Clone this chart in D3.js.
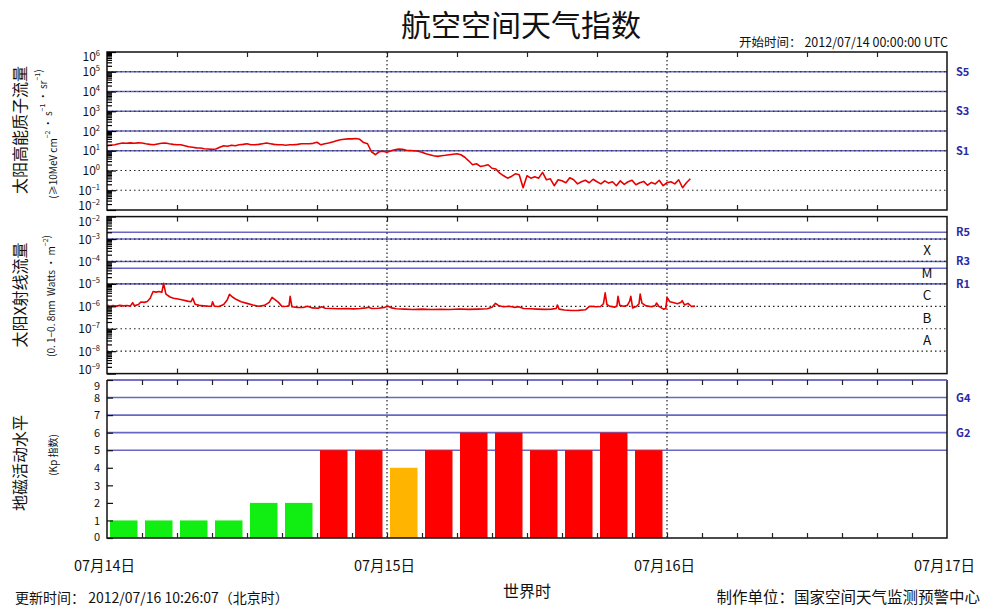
<!DOCTYPE html>
<html>
<head>
<meta charset="utf-8">
<script src="https://cdn.jsdelivr.net/npm/d3@7/dist/d3.min.js"></script>
<style>
  body { margin: 0; background: #fff; }
  text { font-family: "Noto Sans CJK SC", "Liberation Sans", sans-serif; }
</style>
</head>
<body>
<svg id="chart" width="984" height="607"></svg>
<script>
// ---------- data ----------
const startTime = new Date(Date.UTC(2012, 6, 14, 0, 0, 0));
const endTime = new Date(Date.UTC(2012, 6, 17, 0, 0, 0));
const dayLabels = ["07月14日", "07月15日", "07月16日", "07月17日"];

// >=10 MeV proton flux (pfu), one sample every 20 minutes from the start time
const protonStepMinutes = 20;
const protonFlux = [
  18, 19, 20, 22.6, 24.5, 24, 25, 24, 25, 24.5,
  22.5, 21, 20, 22, 24, 24.5, 22.5, 21, 20, 20,
  18, 16, 15, 14, 13.8, 12.6, 12.2, 11.8, 12.2, 15,
  18, 17, 19, 18, 20, 21, 22.6, 20, 20, 21,
  22.6, 24.5, 22.6, 21, 20, 20, 19, 20, 20, 21,
  22.6, 22.6, 22.6, 23.7, 27, 20, 22.6, 24.5, 28, 32,
  36, 38, 40, 40, 42, 38, 26, 22.6, 8.9, 6.3,
  8.9, 9.5, 8.3, 10, 11.2, 12.2, 11.8, 10.6, 10.3, 10,
  9.5, 8.4, 7, 6.3, 5.6, 5.2, 5.6, 5.9, 6.3, 6.7,
  7, 6.3, 4.7, 3.1, 1.95, 2.2, 1.6, 1.74, 1.95, 1.3,
  1.2, 0.74, 0.54, 0.41, 0.5, 0.68, 0.61, 0.134, 0.54, 0.41,
  0.48, 0.41, 0.8, 0.34, 0.38, 0.17, 0.34, 0.30, 0.24, 0.43,
  0.34, 0.21, 0.27, 0.32, 0.24, 0.36, 0.27, 0.21, 0.30, 0.23,
  0.27, 0.17, 0.30, 0.20, 0.27, 0.32, 0.19, 0.24, 0.28, 0.18,
  0.25, 0.21, 0.32, 0.17, 0.24, 0.27, 0.21, 0.34, 0.134, 0.24,
  0.38
];

// 0.1-0.8 nm X-ray flux (W/m^2), sample time in hours after the start time
const xrayHours = [
  0.0, 0.25, 0.5, 0.8, 1.1, 1.4, 1.7, 2.0, 2.2, 2.35,
  2.7, 2.9, 3.2, 3.45, 3.7, 3.95, 4.2, 4.45, 4.7, 4.85,
  5.05, 5.4, 5.7, 6.1, 6.5, 6.9, 7.2, 7.35, 7.55, 7.9,
  8.3, 8.7, 8.95, 9.05, 9.2, 9.6, 10.0, 10.3, 10.5, 10.75,
  11.1, 11.5, 12.0, 12.5, 13.0, 13.5, 13.9, 14.15, 14.4, 14.7,
  15.0, 15.4, 15.6, 15.7, 15.85, 16.3, 16.8, 17.2, 17.6, 18.1,
  18.4, 18.7, 19.3, 19.9, 20.5, 21.1, 21.7, 22.2, 22.4, 22.7,
  23.3, 23.8, 24.1, 24.4, 24.8, 25.5, 26.2, 27.0, 27.8, 28.6,
  29.4, 30.2, 31.0, 31.8, 32.6, 33.0, 33.3, 33.6, 34.0, 34.5,
  34.9, 35.3, 35.7, 36.3, 36.9, 37.5, 38.1, 38.5, 38.6, 38.75,
  39.2, 39.8, 40.4, 41.0, 41.3, 41.5, 41.9, 42.3, 42.55, 42.7,
  42.85, 43.1, 43.5, 43.7, 43.8, 43.95, 44.3, 44.6, 44.8, 44.9,
  45.05, 45.4, 45.6, 45.7, 45.85, 46.2, 46.7, 47.0, 47.1, 47.3,
  47.7, 47.9, 48.0, 48.25, 48.6, 48.9, 49.2, 49.3, 49.5, 49.8,
  50.1, 50.4
];
const xrayFlux = [
  1.15e-6, 1.0e-6, 1.08e-6, 1.02e-6, 1.1e-6, 1.05e-6, 1.08e-6, 1.02e-6, 1.45e-6, 1.05e-6,
  1.2e-6, 1.55e-6, 1.5e-6, 1.65e-6, 2.3e-6, 4.6e-6, 4.3e-6, 4.6e-6, 4.2e-6, 1.05e-5,
  3.5e-6, 2.6e-6, 2.3e-6, 2.1e-6, 1.9e-6, 1.7e-6, 1.6e-6, 2.3e-6, 1.25e-6, 1.1e-6,
  1.05e-6, 1.0e-6, 1.02e-6, 1.6e-6, 1.0e-6, 0.98e-6, 1.2e-6, 1.9e-6, 3.4e-6, 2.6e-6,
  2.0e-6, 1.6e-6, 1.35e-6, 1.15e-6, 1.0e-6, 1.1e-6, 1.5e-6, 2.5e-6, 2.0e-6, 1.5e-6,
  0.98e-6, 1.0e-6, 1.05e-6, 2.8e-6, 0.95e-6, 0.9e-6, 0.88e-6, 1.0e-6, 0.85e-6, 0.82e-6,
  0.95e-6, 0.82e-6, 0.8e-6, 0.78e-6, 0.8e-6, 0.77e-6, 0.8e-6, 0.85e-6, 0.9e-6, 0.8e-6,
  0.82e-6, 0.9e-6, 1.0e-6, 0.85e-6, 0.78e-6, 0.75e-6, 0.72e-6, 0.75e-6, 0.72e-6, 0.74e-6,
  0.72e-6, 0.76e-6, 0.73e-6, 0.75e-6, 0.78e-6, 0.9e-6, 1.35e-6, 1.05e-6, 0.95e-6, 1.0e-6,
  0.9e-6, 0.95e-6, 0.8e-6, 0.78e-6, 0.75e-6, 0.73e-6, 0.75e-6, 0.8e-6, 1.15e-6, 0.75e-6,
  0.68e-6, 0.65e-6, 0.66e-6, 0.7e-6, 0.95e-6, 1.0e-6, 0.95e-6, 0.98e-6, 1.3e-6, 4.0e-6,
  1.2e-6, 1.0e-6, 0.92e-6, 1.0e-6, 2.8e-6, 1.1e-6, 1.0e-6, 1.1e-6, 1.7e-6, 2.8e-6,
  0.85e-6, 1.0e-6, 1.3e-6, 3.5e-6, 1.4e-6, 1.05e-6, 0.95e-6, 1.1e-6, 1.4e-6, 1.0e-6,
  0.75e-6, 0.8e-6, 2.5e-6, 1.6e-6, 1.45e-6, 1.3e-6, 1.5e-6, 1.8e-6, 1.15e-6, 1.35e-6,
  0.98e-6, 1.02e-6
];

// planetary Kp index, one value per 3-hour interval
const kpStepHours = 3;
const kpValues = [1, 1, 1, 1, 2, 2, 5, 5, 4, 5, 6, 6, 5, 5, 6, 5];

// NOAA scale thresholds
const protonScale = [
  { label: "S1", value: 1e1 }, { label: "", value: 1e2 }, { label: "S3", value: 1e3 },
  { label: "", value: 1e4 }, { label: "S5", value: 1e5 }
];
const radioScale = [
  { label: "R1", value: 1e-5 }, { label: "", value: 5e-5 }, { label: "R3", value: 1e-4 },
  { label: "", value: 1e-3 }, { label: "R5", value: 2e-3 }
];
const stormScale = [
  { label: "", value: 5 }, { label: "G2", value: 6 }, { label: "", value: 7 },
  { label: "G4", value: 8 }, { label: "", value: 9 }
];
const flareClasses = [
  { label: "A", lo: 1e-8, hi: 1e-7 }, { label: "B", lo: 1e-7, hi: 1e-6 },
  { label: "C", lo: 1e-6, hi: 1e-5 }, { label: "M", lo: 1e-5, hi: 1e-4 },
  { label: "X", lo: 1e-4, hi: 1e-3 }
];

// ---------- layout ----------
const svg = d3.select("#chart");
const left = 107, right = 947;
const panels = {
  proton: { top: 52, bottom: 210 },
  xray: { top: 216.6, bottom: 373.6 },
  kp: { top: 380, bottom: 538 }
};
const blue = "#6868c4";
const labelBlue = "#2a2aa8";
const numFont = "Liberation Sans, Arial, sans-serif";

const x = d3.scaleUtc().domain([startTime, endTime]).range([left, right]);
const yP = d3.scaleLog().domain([1e-2, 1e6]).range([panels.proton.bottom, panels.proton.top]);
const yX = d3.scaleLog().domain([1e-9, 1e-2]).range([panels.xray.bottom, panels.xray.top]);
const yK = d3.scaleLinear().domain([0, 9]).range([panels.kp.bottom, panels.kp.top]);

const atHour = h => new Date(startTime.getTime() + h * 3600e3);
const isDecade = v => Math.abs(Math.log10(v) - Math.round(Math.log10(v))) < 1e-9;

// ---------- title ----------
svg.append("text").attr("x", 521).attr("y", 36).attr("text-anchor", "middle")
  .attr("font-size", 30).attr("fill", "#111").text("航空空间天气指数");
svg.append("text").attr("x", 948).attr("y", 47).attr("text-anchor", "end")
  .attr("font-size", 12.5).attr("fill", "#111").style("white-space", "pre")
  .text("开始时间： 2012/07/14 00:00:00 UTC");

// ---------- helpers ----------
function hLine(y, color, width, dash) {
  svg.append("line").attr("x1", left).attr("x2", right).attr("y1", y).attr("y2", y)
    .attr("stroke", color).attr("stroke-width", width)
    .attr("stroke-dasharray", dash || null);
}

function dayDividers(p) {
  [atHour(24), atHour(48)].forEach(d => {
    svg.append("line").attr("x1", x(d)).attr("x2", x(d)).attr("y1", p.top).attr("y2", p.bottom)
      .attr("stroke", "#222").attr("stroke-width", 1.2).attr("stroke-dasharray", "1.5,2.5");
  });
}

function timeTicks(p, stepHours) {
  const ticks = d3.range(stepHours, 72, stepHours).map(atHour);
  const gb = svg.append("g").attr("transform", `translate(0,${p.bottom})`)
    .call(d3.axisBottom(x).tickValues(ticks).tickSize(-5).tickFormat(""));
  const gt = svg.append("g").attr("transform", `translate(0,${p.top})`)
    .call(d3.axisTop(x).tickValues(ticks).tickSize(-5).tickFormat(""));
  [gb, gt].forEach(g => {
    g.select(".domain").remove();
    g.selectAll("line").attr("stroke", "#222").attr("stroke-width", 1.2);
  });
}

function logAxis(y, p) {
  const all = y.ticks();
  const majors = all.filter(isDecade);
  const minors = all.filter(v => !isDecade(v));
  const gMin = svg.append("g").attr("transform", `translate(${left},0)`)
    .call(d3.axisLeft(y).tickValues(minors).tickSize(-5).tickFormat(""));
  const gMaj = svg.append("g").attr("transform", `translate(${left},0)`)
    .call(d3.axisLeft(y).tickValues(majors).tickSize(-9).tickFormat(""));
  [gMin, gMaj].forEach(g => {
    g.select(".domain").remove();
    g.selectAll("line").attr("stroke", "#000").attr("stroke-width", 1.2);
  });
  majors.forEach(v => {
    const e = Math.round(Math.log10(v));
    const base = Math.max(p.top + 9, Math.min(p.bottom, y(v) + 4.5));
    const t = svg.append("text").attr("x", 100).attr("y", base).attr("text-anchor", "end")
      .attr("font-size", 12).attr("font-family", numFont).attr("fill", "#111");
    t.append("tspan").text("10");
    t.append("tspan").attr("dy", -5).attr("font-size", 7.5).text(e < 0 ? "−" + (-e) : String(e));
  });
}

function frame(p) {
  svg.append("rect").attr("x", left).attr("y", p.top).attr("width", right - left)
    .attr("height", p.bottom - p.top).attr("fill", "none")
    .attr("stroke", "#111").attr("stroke-width", 1.5);
}

function scaleLabel(text, y) {
  svg.append("text").attr("x", 956).attr("y", y + 4).attr("font-size", 11)
    .attr("font-weight", "bold").attr("fill", labelBlue)
    .attr("font-family", numFont).text(text);
}

function verticalTitle(main, cx, cy, size) {
  svg.append("text").attr("transform", `translate(${cx},${cy}) rotate(-90)`)
    .attr("text-anchor", "middle").attr("dominant-baseline", "central")
    .attr("font-size", size).attr("fill", "#111").text(main);
}

function verticalUnit(parts, cx, cy) {
  const t = svg.append("text").attr("transform", `translate(${cx},${cy}) rotate(-90)`)
    .attr("text-anchor", "middle").attr("dominant-baseline", "central")
    .attr("font-size", 10).attr("fill", "#111").style("white-space", "pre");
  parts.forEach(([s, sup]) => {
    if (sup) {
      t.append("tspan").attr("dy", -5).attr("font-size", 7).text(s);
      t.append("tspan").attr("dy", 5).text("");
    } else {
      t.append("tspan").text(s);
    }
  });
}

// ---------- panel 1 : proton flux ----------
(function () {
  const p = panels.proton;
  protonScale.forEach(s => hLine(yP(s.value), blue, 1.6));
  yP.ticks().filter(isDecade).filter(v => v > 1e-2 && v < 1e6)
    .forEach(v => hLine(yP(v), "#222", 1.2, "1.5,3"));
  dayDividers(p);
  const line = d3.line()
    .x((d, i) => x(new Date(startTime.getTime() + i * protonStepMinutes * 60e3)))
    .y(d => yP(d));
  svg.append("path").datum(protonFlux).attr("d", line).attr("fill", "none")
    .attr("stroke", "#e80000").attr("stroke-width", 1.6).attr("stroke-linejoin", "round");
  frame(p);
  logAxis(yP, p);
  timeTicks(p, 6);
  protonScale.filter(s => s.label).forEach(s => scaleLabel(s.label, yP(s.value)));
  verticalTitle("太阳高能质子流量", 19, 130, 16);
  verticalUnit([["(≥10MeV cm"], ["−2", true], [" · s"], ["−1", true], [" · sr"], ["−1", true], [")"]], 52, 134);
})();

// ---------- panel 2 : X-ray flux ----------
(function () {
  const p = panels.xray;
  radioScale.forEach(s => hLine(yX(s.value), blue, 1.6));
  yX.ticks().filter(isDecade).filter(v => v > 1e-9 && v < 1e-2)
    .forEach(v => hLine(yX(v), "#222", 1.2, "1.5,3"));
  dayDividers(p);
  const line = d3.line()
    .x((d, i) => x(atHour(xrayHours[i])))
    .y(d => yX(d));
  svg.append("path").datum(xrayFlux).attr("d", line).attr("fill", "none")
    .attr("stroke", "#e80000").attr("stroke-width", 1.6).attr("stroke-linejoin", "round");
  frame(p);
  logAxis(yX, p);
  timeTicks(p, 6);
  radioScale.filter(s => s.label).forEach(s => scaleLabel(s.label, yX(s.value)));
  flareClasses.forEach(c => {
    svg.append("text").attr("x", 927).attr("y", yX(Math.sqrt(c.lo * c.hi)) + 5)
      .attr("text-anchor", "middle").attr("font-size", 13.5).attr("fill", "#111")
      .attr("font-family", numFont).text(c.label);
  });
  verticalTitle("太阳X射线流量", 19, 295, 16);
  verticalUnit([["(0. 1−0. 8nm  Watts · m"], ["−2", true], [")"]], 50, 296);
})();

// ---------- panel 3 : Kp index ----------
(function () {
  const p = panels.kp;
  stormScale.forEach(s => hLine(yK(s.value), blue, 1.6));
  dayDividers(p);
  const colour = v => v >= 5 ? "#ff0000" : v >= 4 ? "#ffb400" : "#11ee11";
  svg.append("g").selectAll("rect").data(kpValues).join("rect")
    .attr("x", (d, i) => x(atHour(i * kpStepHours)) + 3)
    .attr("width", (d, i) => x(atHour((i + 1) * kpStepHours)) - x(atHour(i * kpStepHours)) - 7.5)
    .attr("y", d => yK(d))
    .attr("height", d => yK(0) - yK(d))
    .attr("fill", d => colour(d));
  // frame: left, right and bottom in black, top edge is the G5 level
  svg.append("path")
    .attr("d", `M${left},${p.top}V${p.bottom}H${right}V${p.top}`)
    .attr("fill", "none").attr("stroke", "#111").attr("stroke-width", 1.5);
  hLine(p.top, blue, 1.6);
  const gy = svg.append("g").attr("transform", `translate(${left},0)`)
    .call(d3.axisLeft(yK).tickValues(d3.range(0, 10)).tickSize(-6).tickFormat(""));
  gy.select(".domain").remove();
  gy.selectAll("line").attr("stroke", "#111").attr("stroke-width", 1.2);
  d3.range(0, 10).forEach(v => {
    svg.append("text").attr("x", 100).attr("text-anchor", "end")
      .attr("y", Math.max(p.top + 9.5, Math.min(p.bottom + 2.5, yK(v) + 4.2)))
      .attr("font-size", 11).attr("font-family", numFont).attr("fill", "#111").text(v);
  });
  timeTicks(p, 3);
  stormScale.filter(s => s.label).forEach(s => scaleLabel(s.label, yK(s.value)));
  verticalTitle("地磁活动水平", 19, 463, 16);
  verticalUnit([["(Kp 指数)"]], 52, 455);
})();

// ---------- time axis labels and footer ----------
const gx = svg.append("g").attr("transform", "translate(0,555)")
  .call(d3.axisBottom(x).ticks(d3.utcDay.every(1)).tickSize(0)
    .tickFormat((d, i) => dayLabels[i]));
gx.select(".domain").remove();
gx.selectAll("text").attr("font-size", 14.5).attr("fill", "#111")
  .attr("font-family", "Noto Sans CJK SC, sans-serif").attr("dx", -3).attr("dy", "0.9em");

svg.append("text").attr("x", 527).attr("y", 597).attr("text-anchor", "middle")
  .attr("font-size", 16).attr("fill", "#111").text("世界时");
svg.append("text").attr("x", 15).attr("y", 603).attr("font-size", 14).attr("fill", "#111")
  .style("white-space", "pre").text("更新时间： 2012/07/16 10:26:07（北京时）");
svg.append("text").attr("x", 980).attr("y", 603).attr("text-anchor", "end")
  .attr("font-size", 15.5).attr("fill", "#111").text("制作单位：国家空间天气监测预警中心");
</script>
</body>
</html>
